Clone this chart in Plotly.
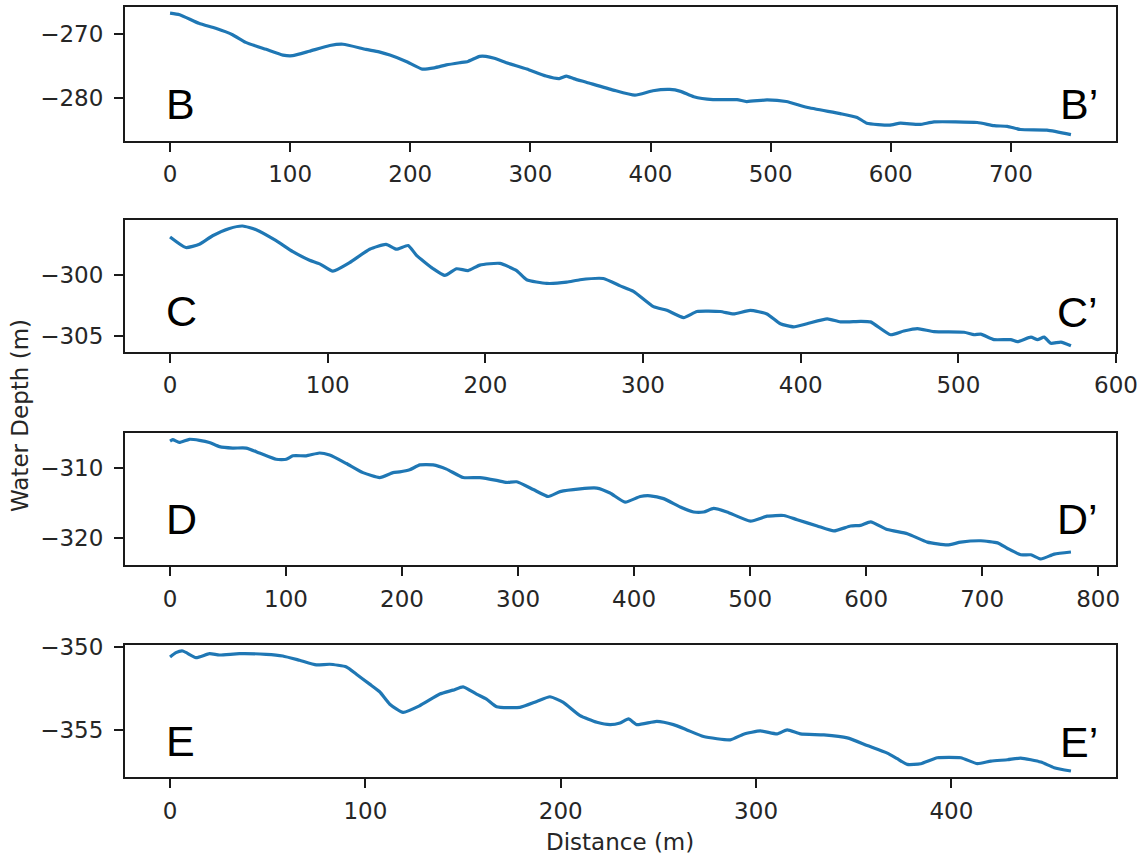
import plotly.graph_objects as go

# ---------------- data ----------------
B_x = [0, 8, 24, 38, 52, 63, 80, 94, 102, 116, 133, 144, 163, 174, 183, 196.6, 210, 220, 230, 241,
       248, 257.7, 263, 270, 280, 297, 313, 324, 330, 336, 347, 369, 387, 402, 416, 425, 436, 452,
       472, 480, 497, 513, 530, 558, 572, 580, 599, 608, 624, 636, 672, 686, 697, 708, 730, 750]
B_y = [-266.7, -266.95, -268.3, -269.1, -270.1, -271.3, -272.4, -273.3, -273.4, -272.7, -271.8,
       -271.6, -272.4, -272.8, -273.3, -274.3, -275.5, -275.3, -274.85, -274.5, -274.3, -273.5,
       -273.5, -273.8, -274.5, -275.5, -276.6, -277.0, -276.6, -277.0, -277.6, -278.8, -279.6,
       -278.9, -278.7, -279.0, -279.85, -280.3, -280.3, -280.6, -280.35, -280.6, -281.5, -282.5,
       -283.1, -284.0, -284.3, -284.0, -284.2, -283.8, -283.9, -284.4, -284.5, -285.0, -285.1,
       -285.8]

C_x = [0, 10, 18.6, 27, 37.7, 46, 54.6, 67.3, 77.9, 88.5, 94.9, 103.3, 113.9, 126.6, 137, 143.6,
       151, 156.3, 166.9, 174.3, 181.7, 189, 196.5, 209.2, 219.8, 226.2, 238.9, 251.6, 260, 274.8,
       285.5, 293.9, 306.6, 315.1, 325.7, 334.2, 349, 357.4, 368, 378.6, 387.1, 395.5, 404, 416.8,
       425.2, 437.9, 444.3, 457, 465.4, 474, 484.5, 503.6, 509.9, 514.2, 522.6, 533.2, 537.5, 546,
       550.2, 554.4, 558.6, 565, 571.4]
C_y = [-296.9, -297.76, -297.5, -296.8, -296.2, -296.0, -296.3, -297.2, -298.1, -298.8, -299.1,
       -299.7, -299.0, -297.9, -297.5, -297.9, -297.6, -298.4, -299.5, -300.05, -299.5, -299.65,
       -299.2, -299.06, -299.65, -300.4, -300.7, -300.6, -300.4, -300.3, -300.9, -301.35, -302.6,
       -302.9, -303.5, -303.0, -303.0, -303.2, -302.9, -303.2, -304.0, -304.25, -304.0, -303.6,
       -303.85, -303.8, -303.85, -304.9, -304.6, -304.4, -304.65, -304.7, -304.9, -304.85, -305.3,
       -305.3, -305.47, -305.1, -305.3, -305.1, -305.6, -305.5, -305.8]

D_x = [0, 2.3, 8, 16.7, 25.3, 33.9, 42.6, 54, 65.6, 77.1, 91.5, 100.2, 105.9, 117.4, 128.9, 137.6,
       152, 166.3, 180.7, 192.2, 198, 206.6, 215.3, 226.8, 238.3, 252.7, 267.1, 281.5, 290.2, 298.8,
       313.1, 326.1, 336.2, 353.5, 367.9, 379.3, 392.3, 405.3, 413.9, 425.4, 439.8, 451.3, 460,
       468.6, 480.1, 500.3, 514.7, 529, 540.6, 557.9, 572.3, 586.6, 595.3, 603.9, 618.3, 635.6,
       652.8, 670.1, 681.6, 698.9, 713.3, 722, 733.4, 742, 750.7, 762.2, 776.6]
D_y = [-306.2, -306.0, -306.4, -305.95, -306.1, -306.4, -307.0, -307.2, -307.2, -307.9, -308.8,
       -308.8, -308.3, -308.3, -307.9, -308.2, -309.4, -310.7, -311.4, -310.7, -310.6, -310.3,
       -309.6, -309.6, -310.2, -311.4, -311.4, -311.8, -312.1, -312.0, -313.1, -314.1, -313.4,
       -313.0, -312.9, -313.6, -314.9, -314.1, -314.0, -314.4, -315.6, -316.3, -316.3, -315.8,
       -316.3, -317.6, -316.9, -316.8, -317.4, -318.3, -319.0, -318.3, -318.2, -317.7, -318.8,
       -319.4, -320.6, -321.0, -320.6, -320.4, -320.7, -321.5, -322.4, -322.4, -323.0, -322.3,
       -322.0]

E_x = [0, 3, 6.5, 13.3, 20.2, 25.3, 35.5, 49.2, 57.7, 66.3, 74.9, 81.7, 90.3, 95.4, 102.2, 107.3,
       112.5, 119.3, 127.8, 138.1, 144.9, 150, 156.9, 162, 167.2, 179.1, 187.7, 194.5, 201.3,
       209.9, 218.5, 225.3, 230.4, 234.7, 239, 249.2, 257.7, 264.6, 273.1, 286.8, 293.6, 302.2,
       310.8, 315.9, 322.7, 334.7, 346.7, 356.9, 367.2, 372.3, 377.4, 384.3, 392.8, 404.8, 413.3,
       420.2, 428.7, 435.5, 445.8, 452.6, 461.2]
E_y = [-350.6, -350.34, -350.24, -350.64, -350.4, -350.48, -350.4, -350.44, -350.54, -350.8,
       -351.08, -351.04, -351.2, -351.64, -352.24, -352.7, -353.45, -353.94, -353.54, -352.84,
       -352.6, -352.4, -352.84, -353.14, -353.6, -353.64, -353.28, -353.0, -353.34, -354.14,
       -354.54, -354.68, -354.58, -354.34, -354.68, -354.48, -354.68, -355.0, -355.4, -355.6,
       -355.26, -355.06, -355.24, -355.0, -355.24, -355.3, -355.48, -355.94, -356.4, -356.74,
       -357.08, -357.04, -356.68, -356.68, -357.04, -356.88, -356.8, -356.7, -356.94, -357.28,
       -357.48]

start_labels = ["B", "C", "D", "E"]
end_labels = ["B’", "C’", "D’", "E’"]
x_title = "Distance (m)"
y_title = "Water Depth (m)"

# ---------------- layout geometry (pixels) ----------------
W, H = 1141, 856
ML, MR, MT, MB = 125, 25, 7, 79
PW, PH = W - ML - MR, H - MT - MB


def fy(py):
    return (H - MB - py) / PH


def fx(px):
    return (px - ML) / PW


panel_px = [(7, 140.7), (220, 351.7), (433.3, 565), (645, 777)]
label_cy = [(104, 104), (311, 312), (519, 519), (740.5, 742)]
y_dticks = [10, 5, 10, 5]
series = [(B_x, B_y), (C_x, C_y), (D_x, D_y), (E_x, E_y)]

LINE = "#1f77b4"
AX = "#1a1a1a"
TXT = "#262626"
TICKFONT = dict(family="DejaVu Sans", size=23, color=TXT)

fig = go.Figure()
annotations = []
for i, ((xs, ys), (ptop, pbot), dty) in enumerate(zip(series, panel_px, y_dticks)):
    n = "" if i == 0 else str(i + 1)
    fig.add_trace(go.Scatter(x=xs, y=ys, mode="lines",
                             line=dict(color=LINE, width=3.2, shape="spline", smoothing=0.5),
                             xaxis="x" + n, yaxis="y" + n, showlegend=False))
    xlo, xhi = min(xs), max(xs)
    ylo, yhi = min(ys), max(ys)
    xp, yp = 0.05 * (xhi - xlo), 0.05 * (yhi - ylo)
    common = dict(showline=True, mirror=True, linecolor=AX, linewidth=2,
                  ticks="outside", ticklen=9, tickwidth=2, tickcolor=AX,
                  showgrid=False, zeroline=False, tickfont=TICKFONT)
    fig.layout["xaxis" + n] = dict(domain=[0, 1], anchor="y" + n,
                                   range=[xlo - xp, xhi + xp],
                                   tickmode="linear", tick0=0, dtick=100,
                                   ticklabelstandoff=3, **common)
    fig.layout["yaxis" + n] = dict(domain=[max(0, fy(pbot)), min(1, fy(ptop))],
                                   anchor="x" + n, range=[ylo - yp, yhi + yp],
                                   tickmode="linear", tick0=0, dtick=dty,
                                   ticklabelstandoff=6, **common)
    cy1, cy2 = label_cy[i]
    annotations.append(dict(text=start_labels[i], xref="paper", yref="paper",
                            x=fx(164), y=fy(cy1), xanchor="left", yanchor="middle",
                            showarrow=False,
                            font=dict(family="Liberation Sans, Arial", size=43, color="black")))
    annotations.append(dict(text=end_labels[i], xref="paper", yref="paper",
                            x=fx(1100), y=fy(cy2), xanchor="right", yanchor="middle",
                            showarrow=False,
                            font=dict(family="Liberation Sans, Arial", size=43, color="black")))

annotations.append(dict(text=x_title, xref="paper", yref="paper", x=fx(620), y=fy(842),
                        xanchor="center", yanchor="middle", showarrow=False,
                        font=dict(family="DejaVu Sans", size=23, color=TXT)))
annotations.append(dict(text=y_title, xref="paper", yref="paper", x=fx(20), y=fy(416),
                        xanchor="center", yanchor="middle", textangle=-90, showarrow=False,
                        font=dict(family="DejaVu Sans", size=23, color=TXT)))

fig.update_layout(width=W, height=H,
                  margin=dict(l=ML, r=MR, t=MT, b=MB, autoexpand=False),
                  plot_bgcolor="white", paper_bgcolor="white",
                  annotations=annotations, showlegend=False)

fig.write_html("out.html")
